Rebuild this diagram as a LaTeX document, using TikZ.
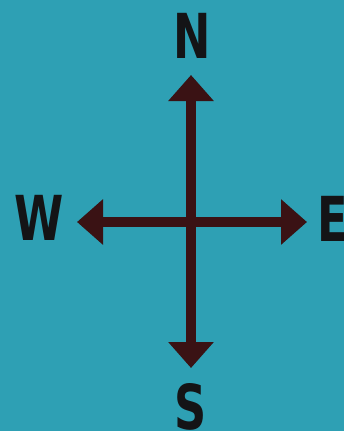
\documentclass[tikz,border=0pt]{standalone}
\usepackage{fontspec}
\setmainfont{DejaVu Sans Condensed}
\usepackage{tikz}
\usetikzlibrary{arrows.meta,positioning}
\definecolor{seateal}{RGB}{46,160,180}
\definecolor{needle}{RGB}{58,18,20}
\definecolor{ink}{RGB}{20,20,22}
\tikzset{
  needlearrow/.style={needle,line width=10pt,-{Triangle[width=44pt,length=26pt]}},
  pointlabel/.style={ink,font=\bfseries\fontsize{62}{62}\selectfont,inner sep=0pt,xscale=0.8,transform shape}
}

\begin{document}
\begin{tikzpicture}[x=1pt,y=-1pt,line join=round]
% --- background
\fill[seateal] (0,0) rectangle (344,431);
\useasboundingbox (0,0) rectangle (344,431);
% --- needle ends
\coordinate (ctr) at (191,222);
\coordinate (ntip) at (191,75);
\coordinate (stip) at (191,368);
\coordinate (wtip) at (77,222);
\coordinate (etip) at (307,222);
\draw[needlearrow] (ctr) -- (ntip);
\draw[needlearrow] (ctr) -- (stip);
\draw[needlearrow] (ctr) -- (wtip);
\draw[needlearrow] (ctr) -- (etip);
% --- cardinal points
\node[pointlabel] (north) at (192,36) {N};
\node[pointlabel] (south) at (191,407) {S};
\node[pointlabel] (west) at (39,218) {W};
\node[pointlabel] (east) at (333,219) {E};
\end{tikzpicture}
\end{document}
